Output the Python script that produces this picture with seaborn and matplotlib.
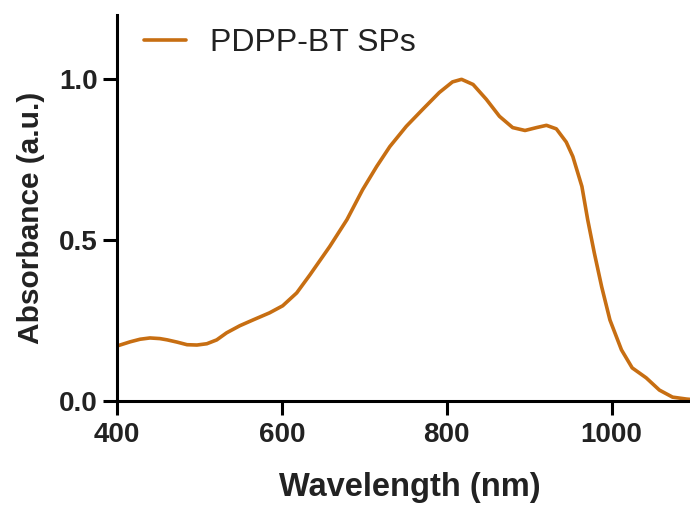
import numpy as np
import pandas as pd
import seaborn as sns
import matplotlib.pyplot as plt

# absorbance spectrum
wavelength = [400, 416, 428, 440, 452, 461, 473, 485, 497, 509, 521, 533, 549,
              565, 585, 601, 618, 634, 658, 679, 698, 715, 731, 751, 771, 791,
              807, 818, 832, 848, 864, 880, 895, 909, 921, 933, 945, 953, 964,
              971, 979, 988, 998, 1012, 1025, 1042, 1058, 1074, 1091, 1100]
absorbance = [0.171, 0.184, 0.192, 0.196, 0.194, 0.190, 0.183, 0.175, 0.174,
              0.178, 0.190, 0.212, 0.234, 0.252, 0.274, 0.296, 0.336, 0.392,
              0.480, 0.564, 0.657, 0.729, 0.791, 0.854, 0.907, 0.959, 0.992,
              1.000, 0.984, 0.938, 0.885, 0.850, 0.841, 0.850, 0.857, 0.846,
              0.805, 0.760, 0.667, 0.564, 0.461, 0.355, 0.252, 0.159, 0.103,
              0.072, 0.034, 0.012, 0.006, 0.004]
label = "PDPP-BT SPs"
color = "#C76E12"

df = pd.DataFrame({"Wavelength": wavelength, "Absorbance": absorbance})

sns.set_style("ticks")
plt.rcParams['font.family'] = ['Liberation Sans', 'DejaVu Sans']

fig = plt.figure(figsize=(6.9, 5.07), dpi=100)
ax = fig.add_axes([117 / 690, 106 / 507, 577 / 690, 386 / 507])

sns.lineplot(data=df, x="Wavelength", y="Absorbance", color=color,
             linewidth=2.6, label=label, ax=ax)
ax.lines[0].set_solid_joinstyle("round")
ax.lines[0].set_solid_capstyle("round")

ax.set_xlim(400, 1100)
ax.set_ylim(0, 1.2)
ax.set_xticks([400, 600, 800, 1000])
ax.set_yticks([0.0, 0.5, 1.0])
ax.set_yticklabels(["0.0", "0.5", "1.0"])

for side in ["top", "right"]:
    ax.spines[side].set_visible(False)
for side in ["left", "bottom"]:
    ax.spines[side].set_linewidth(2.2)
    ax.spines[side].set_color("black")
ax.tick_params(width=2.2, length=10, direction="out", labelsize=20, colors="black")
ax.tick_params(axis="x", pad=5)
ax.tick_params(axis="y", pad=4)
for t in ax.get_xticklabels() + ax.get_yticklabels():
    t.set_fontweight("bold")
    t.set_color("#222222")

ax.set_xlabel("Wavelength (nm)", fontsize=23.5, fontweight="bold", color="#222222")
ax.set_ylabel("Absorbance (a.u.)", fontsize=21.5, fontweight="bold", color="#222222")
ax.xaxis.set_label_coords(0.5 + 4 / 577, -0.183)
ax.yaxis.set_label_coords(-0.125, 0.475)

leg = ax.legend(loc="upper left", frameon=False, fontsize=23, handlelength=1.3,
                handletextpad=0.75, borderaxespad=0.2, bbox_to_anchor=(0.0144, 1.015))
for t in leg.get_texts():
    t.set_color("#222222")

fig.savefig("out.png", dpi=100)
